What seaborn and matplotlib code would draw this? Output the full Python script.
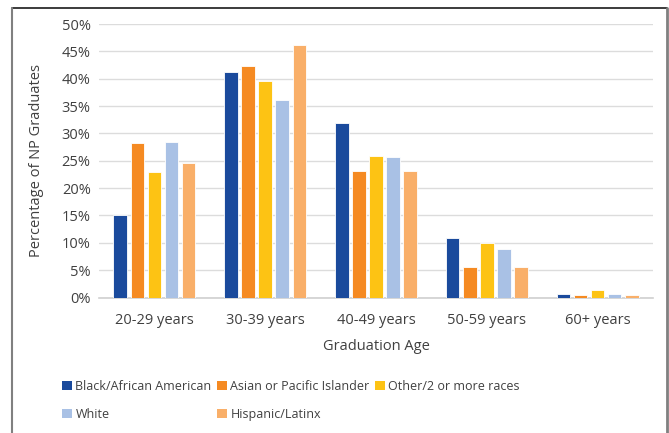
import matplotlib
matplotlib.use("Agg")
import matplotlib.pyplot as plt
import seaborn as sns
import pandas as pd
from matplotlib.lines import Line2D
from matplotlib.patches import Patch
from matplotlib.ticker import FuncFormatter

ages = ["20-29 years", "30-39 years", "40-49 years", "50-59 years", "60+ years"]
groups = ["Black/African American", "Asian or Pacific Islander", "Other/2 or more races",
          "White", "Hispanic/Latinx"]
black = [15.0, 41.3, 31.9, 10.9, 0.7]
asian = [28.3, 42.4, 23.1, 5.6, 0.4]
other = [22.9, 39.5, 25.9, 9.9, 1.4]
white = [28.5, 36.1, 25.7, 8.9, 0.7]
hispanic = [24.5, 46.2, 23.2, 5.5, 0.5]
colors = ["#1A4A9C", "#F58A22", "#FDC314", "#A9C1E5", "#F9AF69"]

series = [black, asian, other, white, hispanic]
rows = []
for g, vals in zip(groups, series):
    for a, v in zip(ages, vals):
        rows.append({"Age": a, "Group": g, "Value": v})
df = pd.DataFrame(rows)

sns.set_style("white")
plt.rcParams["font.family"] = ["Open Sans", "DejaVu Sans"]

W, H = 669, 433
fig = plt.figure(figsize=(W / 100, H / 100), dpi=100)
ax = fig.add_axes([99 / W, 1 - 297.5 / H, (653 - 99) / W, (297.5 - 24) / H])

sns.barplot(data=df, x="Age", y="Value", hue="Group", order=ages, hue_order=groups,
            palette=colors, saturation=1, width=0.77, gap=0.2, edgecolor="white",
            linewidth=0.6, ax=ax, legend=False, zorder=3)

ax.set_ylim(0, 50)
ax.set_yticks(range(0, 51, 5))
ax.yaxis.set_major_formatter(FuncFormatter(lambda v, p: f"{int(v)}%"))
ax.grid(axis="y", color="#DCDCDC", linewidth=1.0, zorder=0)
ax.set_axisbelow(True)
for s in ["top", "right", "left"]:
    ax.spines[s].set_visible(False)
ax.spines["bottom"].set_color("#D0D0D0")
ax.spines["bottom"].set_linewidth(1.2)
ax.tick_params(axis="both", length=0, labelsize=10.5, colors="#404040", pad=6)
ax.tick_params(axis="x", pad=11)
ax.set_xlabel("Graduation Age", fontsize=10.5, color="#404040", labelpad=8)
ax.set_ylabel("Percentage of NP Graduates", fontsize=10.5, color="#404040", labelpad=13)

handles = [Patch(facecolor=c, edgecolor="none") for c in colors]
order = [0, 3, 1, 4, 2]
fig.legend([handles[i] for i in order], [groups[i] for i in order],
           ncol=3, loc="upper left", bbox_to_anchor=(51 / W, 1 - 369 / H),
           frameon=False, fontsize=9.0, handlelength=0.75, handleheight=0.75,
           handletextpad=0.3, columnspacing=0.45, labelspacing=1.15,
           labelcolor="#404040")

# outer border
fig.add_artist(Line2D([12 / W, 667 / W], [1 - 8 / H, 1 - 8 / H], color="#1a1a1a", lw=1.2,
                      transform=fig.transFigure))
fig.add_artist(Line2D([12 / W, 12 / W], [0, 1 - 8 / H], color="#808080", lw=1.5,
                      transform=fig.transFigure))
fig.add_artist(Line2D([667 / W, 667 / W], [0, 1 - 8 / H], color="#808080", lw=2,
                      transform=fig.transFigure))

fig.savefig("out.png", dpi=100)
